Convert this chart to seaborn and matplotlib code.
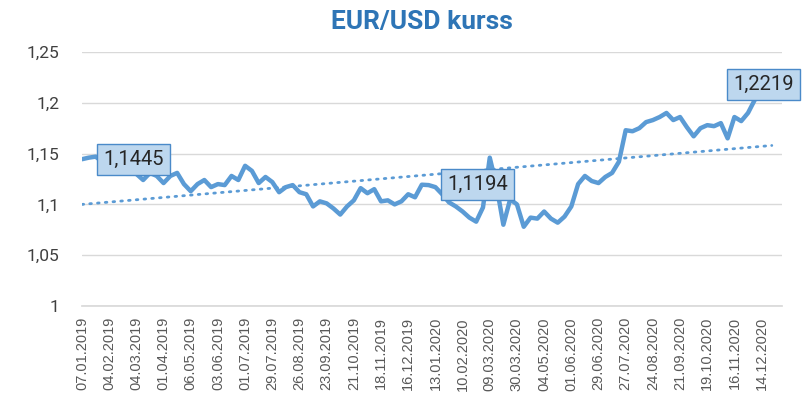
import numpy as np
import pandas as pd
import matplotlib
matplotlib.use("Agg")
import matplotlib.pyplot as plt
import seaborn as sns
from matplotlib.ticker import FuncFormatter

# ==========================================
# DATA (weekly EUR/USD)
# ==========================================
tick_dates = ["07.01.2019", "04.02.2019", "04.03.2019", "01.04.2019", "06.05.2019",
              "03.06.2019", "01.07.2019", "29.07.2019", "26.08.2019", "23.09.2019",
              "21.10.2019", "18.11.2019", "16.12.2019", "13.01.2020", "10.02.2020",
              "09.03.2020", "30.03.2020", "04.05.2020", "01.06.2020", "29.06.2020",
              "27.07.2020", "24.08.2020", "21.09.2020", "19.10.2020", "16.11.2020",
              "14.12.2020"]

rate_2019 = [1.1445, 1.146, 1.147, 1.142, 1.138, 1.140, 1.135, 1.138, 1.130, 1.124,
             1.131, 1.128, 1.121, 1.128, 1.131, 1.120, 1.113, 1.120, 1.124, 1.117,
             1.120, 1.119, 1.128, 1.124, 1.138, 1.133, 1.121, 1.127, 1.122, 1.112,
             1.117, 1.119, 1.112, 1.110, 1.098, 1.103, 1.101, 1.096, 1.090, 1.098,
             1.104, 1.116, 1.111, 1.115, 1.103, 1.104, 1.100, 1.103, 1.110, 1.107,
             1.1194]
rate_2020 = [1.119, 1.117, 1.110, 1.102, 1.098, 1.093, 1.087, 1.083, 1.097, 1.146,
             1.118, 1.080, 1.105, 1.100, 1.078, 1.087, 1.086, 1.093, 1.086, 1.082,
             1.088, 1.098, 1.120, 1.128, 1.123, 1.121, 1.127, 1.131, 1.142, 1.173,
             1.172, 1.175, 1.181, 1.183, 1.186, 1.190, 1.183, 1.186, 1.176, 1.167,
             1.175, 1.178, 1.177, 1.180, 1.165, 1.186, 1.182, 1.190, 1.203, 1.2219]

# linear trendline as drawn on the chart (start / end week and value)
trend_weeks = [0, 101.5]
trend_values = [1.100, 1.158]

# data labels shown on the chart: (week index, value)
labelled = [(0, 1.1445), (50, 1.1194), (100, 1.2219)]
label_offsets = [(37, 0), (40, 0), (1.5, -3)]

rates = rate_2019 + rate_2020
df = pd.DataFrame({"week": np.arange(len(rates)), "rate": rates})
n_categories = 104  # axis runs to 28.12.2020

# ==========================================
# PLOT
# ==========================================
sns.set_theme(style="white")
plt.rcParams["font.family"] = ["Roboto", "DejaVu Sans"]

blue = "#5B9BD5"
fig = plt.figure(figsize=(8.03, 4.12), dpi=100)
ax = fig.add_axes([82 / 803, 1 - 306 / 412, 700 / 803, 254 / 412])

# dotted linear trendline
ax.plot(trend_weeks, trend_values, color=blue, lw=2, linestyle=(0, (0.6, 2.2)),
        dash_capstyle="round", zorder=2)

sns.lineplot(data=df, x="week", y="rate", ax=ax, color=blue, lw=3.2,
             solid_joinstyle="round", zorder=3)

ax.set_xlim(0, n_categories - 1)
ax.set_ylim(1, 1.25)
ax.set_yticks(np.arange(1, 1.2501, 0.05))
ax.yaxis.set_major_formatter(FuncFormatter(lambda v, p: f"{v:.2f}".rstrip("0").rstrip(".").replace(".", ",")))
ax.set_xticks(np.arange(0, len(rates), 4))
ax.set_xticklabels(tick_dates, rotation=90, fontsize=10.5, color="#595959",
                   family=["Liberation Sans", "DejaVu Sans"])
ax.tick_params(axis="x", length=0, pad=8)
ax.tick_params(axis="y", length=0, pad=16, labelsize=12.5, labelcolor="#404040")
ax.grid(axis="y", color="#D9D9D9", lw=1)
ax.set_axisbelow(True)
for s in ["top", "right", "left"]:
    ax.spines[s].set_visible(False)
ax.spines["bottom"].set_color("#D9D9D9")
ax.set_xlabel("")
ax.set_ylabel("")

for (i, v), off in zip(labelled, label_offsets):
    ax.annotate(f"{v:.4f}".replace(".", ","), xy=(i, v), xytext=off, textcoords="offset points",
                ha="center", va="center", fontsize=14.5, color="#262626", zorder=5,
                annotation_clip=False,
                bbox=dict(boxstyle="square,pad=0.3", fc="#BDD7EE", ec="#4A8AC9", lw=1))

fig.text(422 / 803, 1 - 22 / 412, "EUR/USD kurss", ha="center", va="center",
         fontsize=19, fontweight="bold", color="#2E75B6")

fig.savefig("out.png", dpi=100)
